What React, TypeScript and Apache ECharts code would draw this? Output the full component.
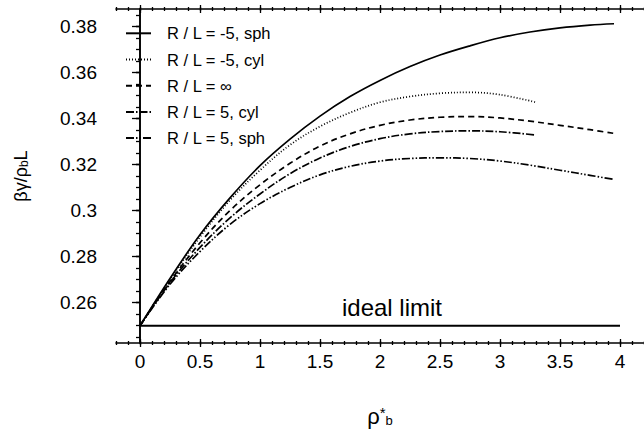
import React, { useEffect, useRef } from "react";
import * as echarts from "echarts";

// x values of the curves
const xLong = [0, 0.25, 0.5, 0.75, 1, 1.25, 1.5, 1.75, 2, 2.25, 2.5, 2.75, 3, 3.25, 3.5, 3.75, 3.95];
const xShort = [0, 0.25, 0.5, 0.75, 1, 1.25, 1.5, 1.75, 2, 2.25, 2.5, 2.75, 3, 3.3];

// series values (beta gamma / rho_b L)
const sphMinus5 = [0.25, 0.2705, 0.2895, 0.3055, 0.3195, 0.331, 0.341, 0.3495, 0.3565, 0.3625, 0.3675, 0.3715, 0.375, 0.3775, 0.3793, 0.3805, 0.3811];
const cylMinus5 = [0.25, 0.27, 0.2885, 0.3045, 0.3175, 0.3285, 0.3365, 0.3425, 0.347, 0.3495, 0.3509, 0.3513, 0.3503, 0.347];
const flat = [0.25, 0.2692, 0.286, 0.3, 0.3112, 0.3205, 0.328, 0.3333, 0.337, 0.3393, 0.3405, 0.3408, 0.3402, 0.3388, 0.337, 0.3351, 0.3335];
const cylPlus5 = [0.25, 0.2687, 0.284, 0.2968, 0.3072, 0.316, 0.3228, 0.3278, 0.3312, 0.3333, 0.3343, 0.3346, 0.3342, 0.3328];
const sphPlus5 = [0.25, 0.268, 0.2822, 0.294, 0.303, 0.31, 0.3155, 0.3192, 0.3215, 0.3226, 0.3229, 0.3226, 0.3215, 0.3197, 0.3175, 0.3153, 0.3135];

const idealX = [0, 4];
const idealY = [0.25, 0.25];

const seriesNames = ["R / L = -5, sph", "R / L = -5, cyl", "R / L = \u221e", "R / L = 5, cyl", "R / L = 5, sph"];

// axis ticks / labels
const xMajorTicks = [0, 0.5, 1, 1.5, 2, 2.5, 3, 3.5, 4];
const yMajorTicks = [0.26, 0.28, 0.3, 0.32, 0.34, 0.36, 0.38];
const xMinorTicks = Array.from({ length: 45 }, (_, i) => +(-0.2 + i * 0.1).toFixed(2));
const yMinorTicks = Array.from({ length: 29 }, (_, i) => +(0.245 + i * 0.005).toFixed(3));

const X_MIN = -0.2;
const X_MAX = 4.2;
const Y_MIN = 0.2425;
const Y_MAX = 0.3875;

const FONT = "Liberation Sans";

const zip = (xs: number[], ys: number[]) => xs.map((x, i) => [x, ys[i]]);

function tickAxis(pos: string, values: number[], len: number, offset: number, isX: boolean) {
  return {
    type: "value",
    min: isX ? X_MIN : Y_MIN,
    max: isX ? X_MAX : Y_MAX,
    position: pos,
    offset,
    axisLine: { show: false },
    axisTick: { show: true, inside: false, length: len, customValues: values, lineStyle: { color: "#000", width: 1.3 } },
    axisLabel: { show: false },
    splitLine: { show: false },
  };
}

export default function App() {
  const ref = useRef<HTMLDivElement>(null);
  useEffect(() => {
    if (!ref.current) return;
    const chart = echarts.init(ref.current, null, { renderer: "svg" });
    const fmt = (v: number) => String(+v.toFixed(3));
    const lineBase = { type: "line", symbol: "none", smooth: 0.35, xAxisIndex: 0, yAxisIndex: 0, z: 3 };
    const mk = (name: string, xs: number[], ys: number[], type: any) => ({
      ...lineBase,
      name,
      data: zip(xs, ys),
      lineStyle: { color: "#000", width: 1.7, type },
      itemStyle: { color: "#000" },
    });
    chart.setOption({
      animation: false,
      backgroundColor: "#fff",
      grid: { left: 116, top: 9, width: 531, height: 338 },
      legend: {
        orient: "vertical",
        left: 125,
        top: 24.3,
        padding: 0,
        itemWidth: 25,
        itemHeight: 18,
        itemGap: 8.2,
        itemStyle: { opacity: 0 },
        textStyle: { fontFamily: FONT, fontSize: 16.5, lineHeight: 18, color: "#000", padding: [0, 0, 0, 11] },
        data: seriesNames,
      },
      xAxis: [
        {
          type: "value",
          min: X_MIN,
          max: X_MAX,
          position: "bottom",
          axisLine: { show: true, lineStyle: { color: "#000", width: 1.6 } },
          axisTick: { show: false },
          axisLabel: { customValues: xMajorTicks, formatter: fmt, fontFamily: FONT, fontSize: 19, color: "#000", margin: 9 },
          splitLine: { show: false },
          name: "{g|\u03c1}{sup|*}{sub|b}",
          nameLocation: "middle",
          nameGap: 62,
          nameTextStyle: {
            rich: {
              g: { fontFamily: FONT, fontSize: 22, color: "#000" },
              sup: { fontFamily: FONT, fontSize: 15, color: "#000", verticalAlign: "top" },
              sub: { fontFamily: FONT, fontSize: 13, color: "#000", verticalAlign: "bottom" },
            },
          },
        },
        tickAxis("bottom", xMajorTicks, 8, -4, true),
        tickAxis("bottom", xMinorTicks, 4, -2, true),
        {
          type: "value",
          min: X_MIN,
          max: X_MAX,
          position: "top",
          axisLine: { show: true, lineStyle: { color: "#000", width: 1.6 } },
          axisTick: { show: false },
          axisLabel: { show: false },
          splitLine: { show: false },
        },
        tickAxis("top", xMajorTicks, 8, -4, true),
        tickAxis("top", xMinorTicks, 4, -2, true),
      ],
      yAxis: [
        {
          type: "value",
          min: Y_MIN,
          max: Y_MAX,
          position: "left",
          axisLine: { show: true, lineStyle: { color: "#000", width: 1.6 } },
          axisTick: { show: false },
          axisLabel: { customValues: yMajorTicks, formatter: fmt, fontFamily: FONT, fontSize: 19, color: "#000", margin: 19 },
          splitLine: { show: false },
          name: "{g|\u03b2\u03b3/\u03c1}{sub|b}{g|L}",
          nameLocation: "middle",
          nameGap: 86,
          nameRotate: 90,
          nameTextStyle: {
            rich: {
              g: { fontFamily: FONT, fontSize: 18, color: "#000" },
              sub: { fontFamily: FONT, fontSize: 12, color: "#000", verticalAlign: "bottom" },
            },
          },
        },
        tickAxis("left", yMajorTicks, 8, -4, false),
        tickAxis("left", yMinorTicks, 4, -2, false),
        {
          type: "value",
          min: Y_MIN,
          max: Y_MAX,
          position: "right",
          axisLine: { show: true, lineStyle: { color: "#000", width: 1.6 } },
          axisTick: { show: true, inside: true, length: 4, customValues: yMajorTicks, lineStyle: { color: "#000", width: 1.3 } },
          axisLabel: { show: false },
          splitLine: { show: false },
        },
      ],
      series: [
        mk(seriesNames[0], xLong, sphMinus5, "solid"),
        mk(seriesNames[1], xShort, cylMinus5, [1, 2]),
        mk(seriesNames[2], xLong, flat, [6, 4]),
        mk(seriesNames[3], xShort, cylPlus5, [8, 2, 1.5, 2]),
        mk(seriesNames[4], xLong, sphPlus5, [8, 2, 1.5, 2, 1.5, 2]),
        {
          type: "line",
          name: "ideal limit",
          symbol: "none",
          xAxisIndex: 0,
          yAxisIndex: 0,
          data: zip(idealX, idealY),
          lineStyle: { color: "#000", width: 2 },
          itemStyle: { color: "#000" },
          markPoint: {
            symbol: "circle",
            symbolSize: 0,
            data: [{ coord: [2.1, 0.25] }],
            label: { show: true, position: "top", distance: 6, formatter: "ideal limit", fontFamily: FONT, fontSize: 24, color: "#000" },
          },
        },
      ],
    });
    return () => chart.dispose();
  }, []);
  return <div ref={ref} style={{ position: "fixed", left: 0, top: 0, width: 644, height: 432, background: "#fff" }} />;
}
